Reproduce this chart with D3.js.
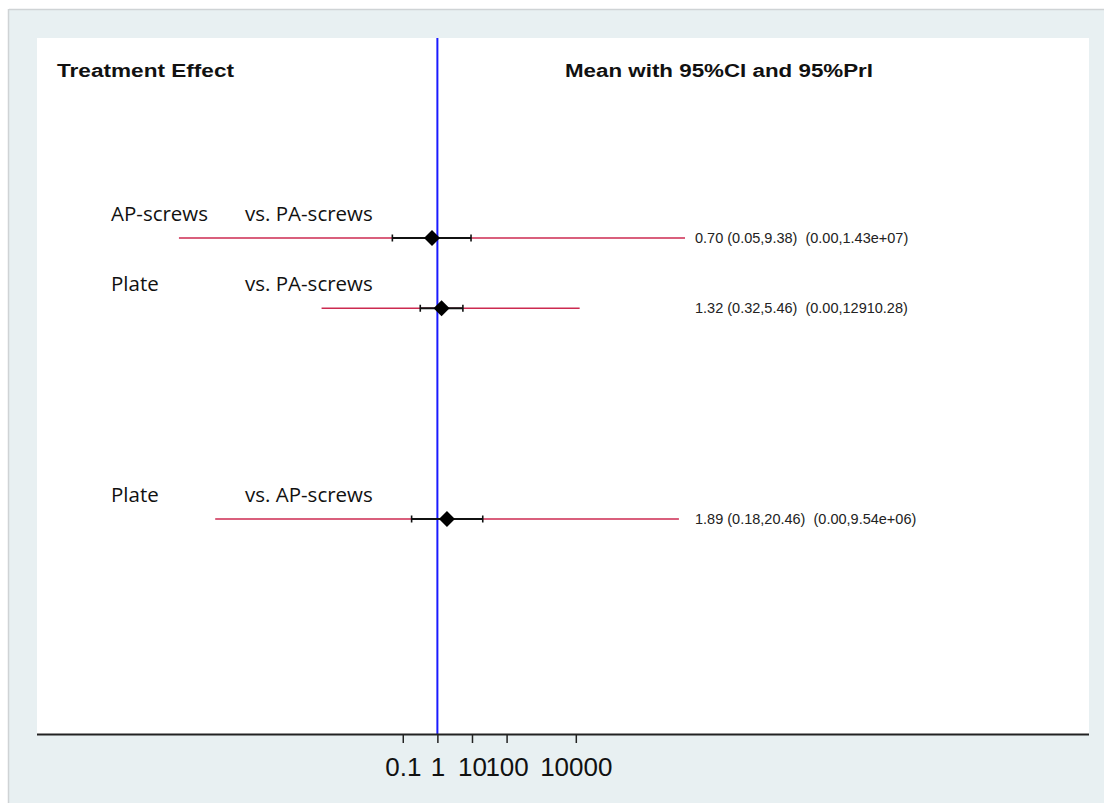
<!DOCTYPE html>
<html>
<head>
<meta charset="utf-8">
<script src="https://cdn.jsdelivr.net/npm/d3@7"></script>
<style>
  html, body { margin: 0; padding: 0; background: #ffffff; }
  svg { display: block; }
</style>
</head>
<body>
<svg id="chart" width="1104" height="803"></svg>
<script>
// Network meta-analysis forest plot: treatment comparisons
const treatments  = ["AP-screws", "Plate", "Plate"];
const comparators = ["vs. PA-screws", "vs. PA-screws", "vs. AP-screws"];
const rowSlots    = [0, 1, 4];              // vertical slot of each comparison
const means       = [0.70, 1.32, 1.89];
const ciLower     = [0.05, 0.32, 0.18];
const ciUpper     = [9.38, 5.46, 20.46];
const priLower    = [3.4e-8, 4.5e-4, 3.8e-7];
const priUpper    = [1.43e7, 12910.28, 9.54e6];
const tickValues  = [0.1, 1, 10, 100, 10000];
const tickLabels  = ["0.1", "1", "10", "100", "10000"];

const svg = d3.select("#chart");
const W = 1104, H = 803;

// frame and backdrop
svg.append("rect").attr("width", W).attr("height", H).attr("fill", "#ffffff");
svg.append("rect").attr("x", 9).attr("y", 10).attr("width", W - 9).attr("height", H - 10)
  .attr("fill", "#e8f0f2");
svg.append("line").attr("x1", 9).attr("x2", W).attr("y1", 9.5).attr("y2", 9.5)
  .attr("stroke", "#cfd3d5").attr("stroke-width", 1.5);
svg.append("line").attr("x1", 8.5).attr("x2", 8.5).attr("y1", 9).attr("y2", H)
  .attr("stroke", "#cfd3d5").attr("stroke-width", 1.5);

const plot = { left: 37, right: 1089, top: 38, bottom: 734 };
svg.append("rect").attr("x", plot.left).attr("y", plot.top)
  .attr("width", plot.right - plot.left).attr("height", plot.bottom - plot.top)
  .attr("fill", "#ffffff");

// log scale: ~34.6 px per decade, 1 at x = 437.7
const x = d3.scaleLog()
  .domain([Math.pow(10, -11.57), Math.pow(10, 18.83)])
  .range([plot.left, plot.right]);
const y = d3.scaleLinear().domain([0, 4]).range([238, 519]);

// headers
svg.append("text").attr("x", 57).attr("y", 77)
  .attr("font-family", "Liberation Sans, Arial, sans-serif")
  .attr("font-weight", "bold").attr("font-size", 18)
  .attr("textLength", 177).attr("lengthAdjust", "spacingAndGlyphs")
  .attr("fill", "#111").text("Treatment Effect");
svg.append("text").attr("x", 565).attr("y", 77)
  .attr("font-family", "Liberation Sans, Arial, sans-serif")
  .attr("font-weight", "bold").attr("font-size", 18)
  .attr("textLength", 308).attr("lengthAdjust", "spacingAndGlyphs")
  .attr("fill", "#111").text("Mean with 95%CI and 95%PrI");

// null-effect reference line
svg.append("line")
  .attr("x1", x(1)).attr("x2", x(1))
  .attr("y1", plot.top).attr("y2", plot.bottom)
  .attr("stroke", "#1a1aff").attr("stroke-width", 2);

const rows = means.map((m, i) => ({
  treat: treatments[i], comp: comparators[i], slot: rowSlots[i],
  mean: m, lo: ciLower[i], hi: ciUpper[i], plo: priLower[i], phi: priUpper[i]
}));

function fmt(v) {
  if (v >= 1e6) {
    const [mant, ex] = v.toExponential(2).split("e");
    const sign = ex[0];
    const digits = ex.slice(1).padStart(2, "0");
    return mant + "e" + sign + digits;
  }
  return v.toFixed(2);
}

const g = svg.append("g");
const row = g.selectAll("g.row").data(rows).join("g").attr("class", "row");

// comparison labels
row.append("text")
  .attr("x", 111).attr("y", d => y(d.slot) - 17)
  .attr("font-family", "Open Sans, sans-serif").attr("font-size", 20.5)
  .attr("fill", "#111").text(d => d.treat);
row.append("text")
  .attr("x", 245).attr("y", d => y(d.slot) - 17)
  .attr("font-family", "Open Sans, sans-serif").attr("font-size", 20.5)
  .attr("fill", "#111").text(d => d.comp);

// prediction interval
row.append("line")
  .attr("x1", d => x(d.plo)).attr("x2", d => x(d.phi))
  .attr("y1", d => y(d.slot)).attr("y2", d => y(d.slot))
  .attr("stroke", "#cc2a50").attr("stroke-width", 1.6);

// confidence interval with caps
row.append("line")
  .attr("x1", d => x(d.lo)).attr("x2", d => x(d.hi))
  .attr("y1", d => y(d.slot)).attr("y2", d => y(d.slot))
  .attr("stroke", "#111").attr("stroke-width", 2);
row.append("line")
  .attr("x1", d => x(d.lo)).attr("x2", d => x(d.lo))
  .attr("y1", d => y(d.slot) - 3.5).attr("y2", d => y(d.slot) + 3.5)
  .attr("stroke", "#111").attr("stroke-width", 1.6);
row.append("line")
  .attr("x1", d => x(d.hi)).attr("x2", d => x(d.hi))
  .attr("y1", d => y(d.slot) - 3.5).attr("y2", d => y(d.slot) + 3.5)
  .attr("stroke", "#111").attr("stroke-width", 1.6);

// mean diamond
row.append("path")
  .attr("d", d => {
    const cx = x(d.mean), cy = y(d.slot), r = 8;
    return `M${cx - r},${cy}L${cx},${cy - r}L${cx + r},${cy}L${cx},${cy + r}Z`;
  })
  .attr("fill", "#000");

// numeric summary
row.append("text")
  .attr("x", 695).attr("y", d => y(d.slot) + 5)
  .attr("font-family", "Liberation Sans, Arial, sans-serif").attr("font-size", 14.5)
  .attr("fill", "#222")
  .style("white-space", "pre")
  .text(d => `${fmt(d.mean)} (${fmt(d.lo)},${fmt(d.hi)})  (${fmt(d.plo)},${fmt(d.phi)})`);

// x axis
const axis = d3.axisBottom(x)
  .tickValues(tickValues)
  .tickFormat((d, i) => tickLabels[i])
  .tickSize(9).tickPadding(15);
const ax = svg.append("g").attr("transform", `translate(0,${plot.bottom})`).call(axis);
ax.select(".domain").attr("d", `M${plot.left},0.5H${plot.right}`)
  .attr("stroke", "#222").attr("stroke-width", 2);
ax.selectAll(".tick line").attr("stroke", "#222").attr("stroke-width", 1.5);
ax.selectAll(".tick text")
  .attr("font-family", "Liberation Sans, Arial, sans-serif")
  .attr("font-size", 26).attr("fill", "#111");
</script>
</body>
</html>
